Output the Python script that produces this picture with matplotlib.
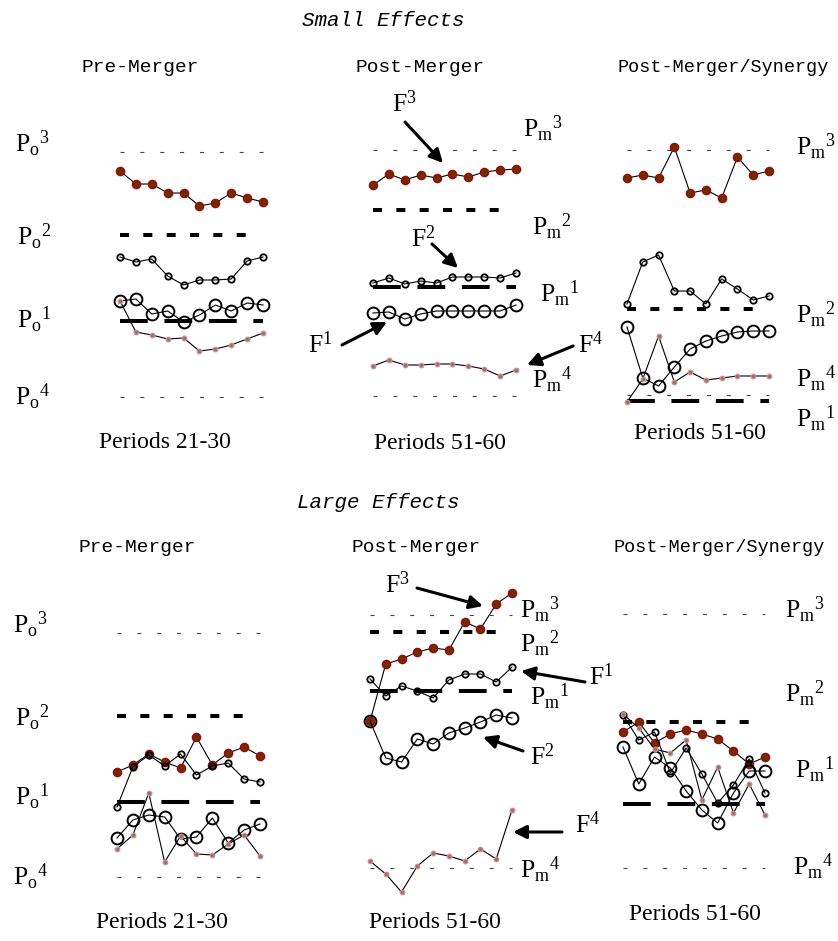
import matplotlib
matplotlib.use('Agg')
from matplotlib import pyplot as plt

plt.rcParams['lines.scale_dashes'] = False
plt.rcParams['mathtext.fontset'] = 'custom'
plt.rcParams['mathtext.rm'] = 'Liberation Serif'
plt.rcParams['mathtext.it'] = 'Liberation Serif:italic'
plt.rcParams['mathtext.bf'] = 'Liberation Serif:bold'

W, H = 838, 941  # figure size in pixels (dpi 100)

# ---------- data: mean prices per period (price index)
periods_pre = list(range(21, 31))
periods_post = list(range(51, 61))

# reference price levels, order: P1, P2, P3, P4
small_pre_levels = [99, 185, 268, 23]
small_post_levels = [133, 210, 270, 24]
small_syn_levels = [19, 111, 270, 25]
large_pre_levels = [98, 184, 267, 23]
large_post_levels = [209, 268, 285, 32]
large_syn_levels = [96, 178, 286, 32]

# Small effects
small_pre_f1 = [119, 121, 106, 109, 98, 105, 115, 109, 117, 115]
small_pre_f2 = [163, 158, 161, 144, 135, 140, 140, 141, 159, 163]
small_pre_f3 = [249, 236, 236, 227, 227, 214, 217, 227, 222, 218]
small_pre_f4 = [119, 88, 85, 81, 82, 69, 71, 75, 81, 87]

small_post_f1 = [107, 108, 101, 106, 109, 109, 109, 109, 109, 115]
small_post_f2 = [137, 142, 136, 139, 137, 143, 143, 143, 142, 147]
small_post_f3 = [235, 246, 240, 245, 242, 246, 243, 248, 250, 251]
small_post_f4 = [54, 60, 55, 55, 56, 56, 54, 51, 44, 50]

small_syn_f1 = [93, 42, 34, 53, 71, 79, 84, 88, 89, 89]
small_syn_f2 = [116, 158, 165, 129, 129, 116, 141, 131, 120, 124]
small_syn_f3 = [242, 245, 242, 273, 227, 230, 222, 263, 245, 249]
small_syn_f4 = [18, 41, 84, 38, 48, 40, 42, 44, 44, 44]

# Large effects
large_pre_f1 = [62, 80, 85, 83, 61, 63, 82, 57, 70, 76]
large_pre_f2 = [93, 133, 145, 134, 146, 125, 134, 137, 121, 118]
large_pre_f3 = [128, 135, 146, 138, 132, 163, 135, 147, 153, 144]
large_pre_f4 = [51, 65, 107, 38, 64, 46, 45, 56, 65, 44]

large_post_f1 = [179, 142, 138, 161, 156, 167, 172, 178, 185, 182]
large_post_f2 = [221, 204, 214, 209, 202, 220, 226, 226, 218, 233]
large_post_f3 = [179, 236, 241, 248, 252, 250, 278, 271, 296, 307]
large_post_f4 = [39, 26, 8, 34, 47, 44, 39, 51, 41, 90]

large_syn_f1 = [153, 116, 143, 132, 109, 90, 77, 107, 129, 129]
large_syn_f2 = [185, 160, 168, 127, 152, 126, 97, 115, 141, 107]
large_syn_f3 = [168, 178, 157, 166, 170, 166, 161, 149, 136, 143]
large_syn_f4 = [186, 172, 151, 147, 160, 100, 133, 87, 116, 85]

# ---------- styles
SERIES_STYLE = {
    'f3': dict(marker='o', ms=5.8, mfc='#6b3000', mec='#9a0a0a', mew=1.1),
    'f2': dict(marker='o', ms=4.6, mfc='none', mec='black', mew=1.3),
    'f1': dict(marker='o', ms=8.5, mfc='none', mec='black', mew=1.4),
    'f4': dict(marker='o', ms=3.3, mfc='#a86a6a', mec='#c49494', mew=0.9),
}
LEVEL_STYLE = [
    dict(color='black', lw=2.9, dashes=(20, 12)),        # P1 long dash
    dict(color='black', lw=2.9, dashes=(6.5, 10.3)),     # P2 short thick dash
    dict(color='#444444', lw=0.8, dashes=(2.9, 11.4)),   # P3 dotted
    dict(color='#444444', lw=0.8, dashes=(2.9, 11.4)),   # P4 dotted
]

fig = plt.figure(figsize=(W / 100, H / 100), dpi=100)


def panel_axes(x_first, x_last, periods, ybase):
    """Full-figure invisible axes whose scale puts the periods at x_first..x_last px."""
    ax = fig.add_axes([0, 0, 1, 1])
    p0, p1 = periods[0], periods[-1]
    step = (x_last - x_first) / (p1 - p0)
    ax.set_xlim(p0 - x_first / step, p0 + (W - x_first) / step)
    ax.set_ylim(ybase - H, ybase)
    ax.set_axis_off()
    return ax


def draw_panel(ax, periods, levels, series):
    for i, lev in enumerate(levels):
        xend = periods[-2] if i == 1 else periods[-1]
        ax.plot([periods[0], xend], [lev, lev], solid_capstyle='butt',
                dash_capstyle='butt', **LEVEL_STYLE[i])
    for key in ('f3', 'f2', 'f1', 'f4'):
        ax.plot(periods, series[key], color='black', lw=0.8, **SERIES_STYLE[key])


panels = [
    (120, 263, periods_pre, 420, small_pre_levels,
     dict(f1=small_pre_f1, f2=small_pre_f2, f3=small_pre_f3, f4=small_pre_f4)),
    (373, 516, periods_post, 420, small_post_levels,
     dict(f1=small_post_f1, f2=small_post_f2, f3=small_post_f3, f4=small_post_f4)),
    (627, 769, periods_post, 420, small_syn_levels,
     dict(f1=small_syn_f1, f2=small_syn_f2, f3=small_syn_f3, f4=small_syn_f4)),
    (117, 260, periods_pre, 900, large_pre_levels,
     dict(f1=large_pre_f1, f2=large_pre_f2, f3=large_pre_f3, f4=large_pre_f4)),
    (370, 512, periods_post, 900, large_post_levels,
     dict(f1=large_post_f1, f2=large_post_f2, f3=large_post_f3, f4=large_post_f4)),
    (623, 765, periods_post, 900, large_syn_levels,
     dict(f1=large_syn_f1, f2=large_syn_f2, f3=large_syn_f3, f4=large_syn_f4)),
]
for x0, x1, per, ybase, levels, series in panels:
    ax = panel_axes(x0, x1, per, ybase)
    draw_panel(ax, per, levels, series)

# ---------- text overlay in pixel coordinates
tx = fig.add_axes([0, 0, 1, 1])
tx.set_xlim(0, W)
tx.set_ylim(H, 0)
tx.set_axis_off()

mono = dict(family='Liberation Mono', ha='center', va='center')
tx.text(383, 20, 'Small Effects', fontsize=15, style='italic', **mono)
tx.text(378, 503, 'Large Effects', fontsize=15, style='italic', **mono)
for x, y, s, fs in [(140, 67, 'Pre-Merger', 14), (420, 67, 'Post-Merger', 14),
                    (723, 67, 'Post-Merger/Synergy', 13.3), (137, 548, 'Pre-Merger', 14),
                    (416, 548, 'Post-Merger', 14), (719, 548, 'Post-Merger/Synergy', 13.3)]:
    tx.text(x, y, s, fontsize=fs, **mono)

serif = dict(family='Liberation Serif', ha='center', va='center', fontsize=17)
for x, y, s in [(165, 442, 'Periods 21-30'), (440, 443, 'Periods 51-60'),
                (700, 433, 'Periods 51-60'), (162, 923, 'Periods 21-30'),
                (435, 922, 'Periods 51-60'), (695, 915, 'Periods 51-60')]:
    tx.text(x, y, s, **serif)

# price level labels: (sub letter, index, x left, baseline)
p_labels = [
    ('o', 3, 15, 152), ('o', 2, 17, 245), ('o', 1, 17, 328), ('o', 4, 15, 405),
    ('m', 3, 523, 137), ('m', 2, 532, 235), ('m', 1, 540, 302), ('m', 4, 532, 388),
    ('m', 3, 796, 155), ('m', 2, 796, 323), ('m', 4, 796, 387), ('m', 1, 796, 427),
    ('o', 3, 13, 633), ('o', 2, 15, 726), ('o', 1, 15, 805), ('o', 4, 13, 885),
    ('m', 3, 520, 618), ('m', 2, 520, 652), ('m', 1, 530, 705), ('m', 4, 520, 878),
    ('m', 3, 785, 618), ('m', 2, 785, 702), ('m', 1, 795, 778), ('m', 4, 793, 875),
]
for sub, idx, x, y in p_labels:
    tx.text(x, y, r'$\mathrm{P_{%s}{}^{%d}}$' % (sub, idx), fontsize=18.5,
            ha='left', va='baseline')

# firm labels with arrows: (index, label x, baseline, arrow tail, arrow head)
f_labels = [
    (3, 392, 112, (405, 122), (443, 163)),
    (2, 411, 247, (432, 244), (458, 268)),
    (1, 308, 353, (342, 345), (387, 322)),
    (4, 578, 353, (573, 346), (527, 365)),
    (3, 385, 593, (417, 588), (483, 606)),
    (1, 589, 685, (585, 682), (521, 671)),
    (2, 530, 765, (523, 751), (483, 737)),
    (4, 575, 833, (562, 832), (513, 832)),
]
arrow = dict(arrowstyle='-|>', color='black', lw=2.2, mutation_scale=20,
             shrinkA=0, shrinkB=0)
for idx, x, y, tail, head in f_labels:
    tx.text(x, y, r'$\mathrm{F^{%d}}$' % idx, fontsize=18.5, ha='left', va='baseline')
    tx.annotate('', xy=head, xytext=tail, arrowprops=arrow)

fig.savefig('out.png', dpi=100)
